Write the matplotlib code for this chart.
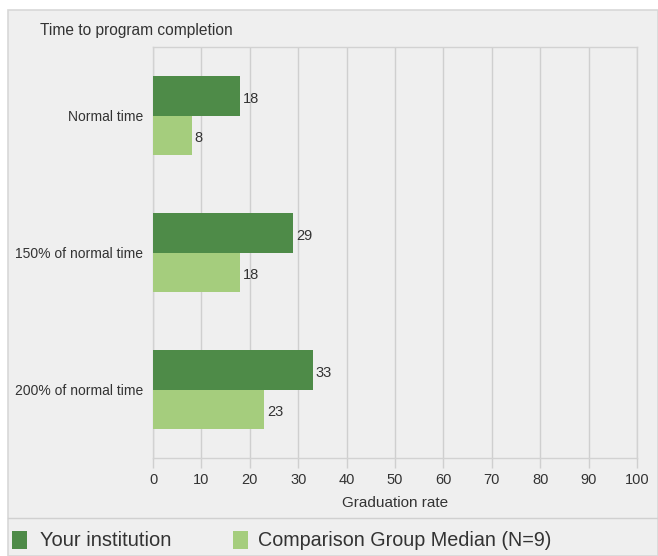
import matplotlib
matplotlib.use("Agg")
import matplotlib.pyplot as plt
from matplotlib.patches import Rectangle
from matplotlib.lines import Line2D
import numpy as np

plt.rcParams['font.family'] = ['Liberation Sans', 'DejaVu Sans']

categories = ["Normal time", "150% of normal time", "200% of normal time"]
your_inst = [18, 29, 33]
comparison = [8, 18, 23]
series_names = ["Your institution", "Comparison Group Median (N=9)"]
xticks = list(range(0, 101, 10))

dark = '#4e8b48'
light = '#a5cd7d'
bg = '#efefef'
txt = '#333333'

fig = plt.figure(figsize=(6.58, 5.56), dpi=100)
fig.patch.set_facecolor('white')
W, H = 658, 556
# gray panel
fig.patches.append(Rectangle((8 / W, 0), 1 - 8 / W, (H - 10) / H, transform=fig.transFigure,
                             facecolor=bg, edgecolor='#d8d8d8', lw=1.2, zorder=-5))
fig.lines.append(Line2D([8 / W, 1], [1 - 518 / H, 1 - 518 / H], transform=fig.transFigure,
                        color='#d0d0d0', lw=1, zorder=-4))

ax = fig.add_axes([153 / W, 1 - 458 / H, (637 - 153) / W, (458 - 47) / H])
ax.set_facecolor(bg)
y = np.arange(len(categories))
h = 0.285
b1 = ax.barh(y - h / 2, your_inst, height=h, color=dark, zorder=3)
b2 = ax.barh(y + h / 2, comparison, height=h, color=light, zorder=3)
for bars, vals in ((b1, your_inst), (b2, comparison)):
    for r, v in zip(bars, vals):
        ax.text(v + 0.6, r.get_y() + r.get_height() / 2 + 0.02, str(v), va='center', ha='left',
                fontsize=10.5, color=txt)
ax.set_ylim(2.5, -0.5)
ax.set_xlim(0, 100)
ax.set_xticks(xticks)
ax.set_xticklabels([str(t) for t in xticks], fontsize=10.5, color=txt)
ax.set_yticks(y)
ax.set_yticklabels(categories, fontsize=10, color=txt)
ax.tick_params(axis='y', length=0, pad=7)
ax.tick_params(axis='x', length=7, width=1, color='#cfcfcf', pad=4)
ax.grid(axis='x', color='#cfcfcf', lw=1, zorder=0)
for s in ax.spines.values():
    s.set_color('#d2d2d2')
    s.set_linewidth(1)
ax.set_xlabel("Graduation rate", fontsize=11, color=txt, labelpad=6)

fig.text(40 / W, 1 - 30 / H, "Time to program completion", fontsize=11.2, color=txt, va='center')

# legend
ly = 1 - 540 / H
fig.patches.append(Rectangle((12 / W, ly - 9 / H), 15 / W, 18 / H, transform=fig.transFigure,
                             facecolor=dark, edgecolor='none'))
fig.text(40 / W, ly, series_names[0], fontsize=14.5, color=txt, va='center')
fig.patches.append(Rectangle((233 / W, ly - 9 / H), 15 / W, 18 / H, transform=fig.transFigure,
                             facecolor=light, edgecolor='none'))
fig.text(258 / W, ly, series_names[1], fontsize=14.2, color=txt, va='center')

fig.savefig("out.png", dpi=100, facecolor=fig.get_facecolor())
